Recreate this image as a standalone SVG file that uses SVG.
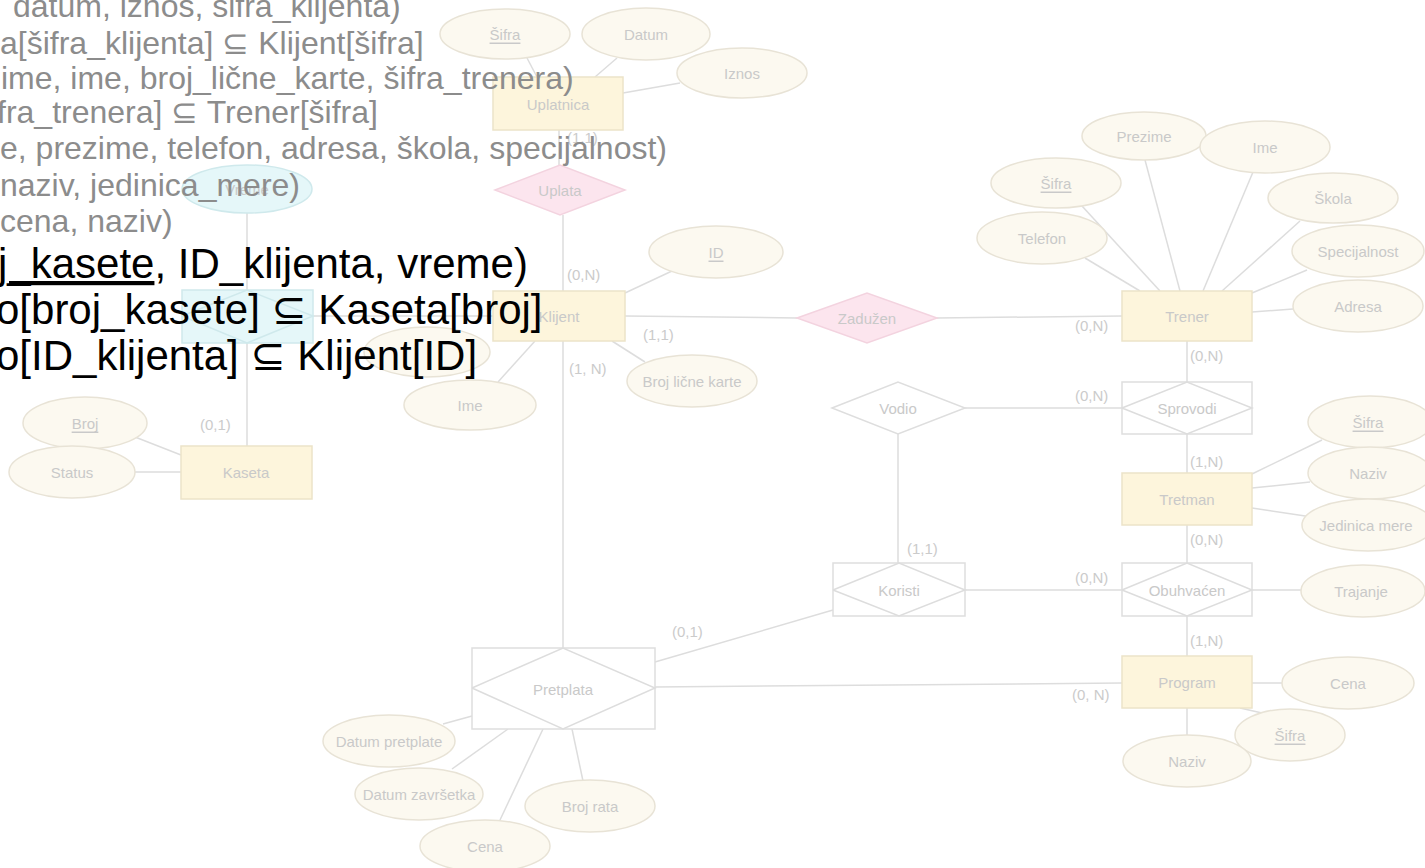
<svg xmlns="http://www.w3.org/2000/svg" width="1425" height="868" viewBox="0 0 1425 868">
<style>
.ent{fill:#fdf5dc;stroke:#ece3c9;stroke-width:1.5}
.att{fill:#fcf9f0;stroke:#e8e3d6;stroke-width:1.5}
.pink{fill:#fce5ee;stroke:#f3d3df;stroke-width:1.5}
.cyan{fill:#e5f7f9;stroke:#cfe9ec;stroke-width:1.5}
.wk{fill:#ffffff;stroke:#dedede;stroke-width:1.5}
.ln{stroke:#dddddd;stroke-width:1.5;fill:none}
.lbl{font-family:"Liberation Sans",Arial,sans-serif;font-size:15px;fill:#c9c9c9;text-anchor:middle;dominant-baseline:central}
.card{font-family:"Liberation Sans",Arial,sans-serif;font-size:15px;fill:#cbcbcb}
.u{text-decoration:underline}
.g{font-family:"Liberation Sans",Arial,sans-serif;font-size:32px;fill:#8c8c8c}
.b{font-family:"Liberation Sans","DejaVu Sans",sans-serif;font-size:42px;fill:#000000}
</style>
<rect width="1425" height="868" fill="#ffffff"/>
<g id="connectors">
<line class="ln" x1="527" y1="58" x2="537" y2="77"/>
<line class="ln" x1="617" y1="58" x2="595" y2="77"/>
<line class="ln" x1="680" y1="83" x2="623" y2="93"/>
<line class="ln" x1="559" y1="130" x2="559" y2="165"/>
<line class="ln" x1="563" y1="215" x2="563" y2="648"/>
<line class="ln" x1="247" y1="213" x2="247" y2="290"/>
<line class="ln" x1="247" y1="343" x2="247" y2="446"/>
<line class="ln" x1="313" y1="316" x2="493" y2="316"/>
<line class="ln" x1="625" y1="316" x2="797" y2="318"/>
<line class="ln" x1="937" y1="318" x2="1122" y2="316"/>
<line class="ln" x1="672" y1="271" x2="625" y2="293"/>
<line class="ln" x1="645" y1="362" x2="612" y2="341"/>
<line class="ln" x1="498" y1="382" x2="535" y2="341"/>
<line class="ln" x1="135" y1="437" x2="181" y2="455"/>
<line class="ln" x1="135" y1="472" x2="181" y2="472"/>
<line class="ln" x1="1085" y1="258" x2="1140" y2="291"/>
<line class="ln" x1="1082" y1="206" x2="1160" y2="291"/>
<line class="ln" x1="1145" y1="160" x2="1180" y2="291"/>
<line class="ln" x1="1253" y1="172" x2="1203" y2="291"/>
<line class="ln" x1="1300" y1="221" x2="1222" y2="291"/>
<line class="ln" x1="1307" y1="270" x2="1252" y2="293"/>
<line class="ln" x1="1293" y1="309" x2="1252" y2="312"/>
<line class="ln" x1="1187" y1="341" x2="1187" y2="382"/>
<line class="ln" x1="965" y1="408" x2="1122" y2="408"/>
<line class="ln" x1="898" y1="434" x2="898" y2="563"/>
<line class="ln" x1="1187" y1="434" x2="1187" y2="473"/>
<line class="ln" x1="1252" y1="474" x2="1322" y2="440"/>
<line class="ln" x1="1252" y1="488" x2="1310" y2="482"/>
<line class="ln" x1="1252" y1="508" x2="1312" y2="517"/>
<line class="ln" x1="1187" y1="525" x2="1187" y2="563"/>
<line class="ln" x1="965" y1="590" x2="1122" y2="590"/>
<line class="ln" x1="1252" y1="590" x2="1301" y2="590"/>
<line class="ln" x1="1187" y1="616" x2="1187" y2="656"/>
<line class="ln" x1="833" y1="610" x2="655" y2="662"/>
<line class="ln" x1="655" y1="687" x2="1122" y2="683"/>
<line class="ln" x1="1252" y1="683" x2="1282" y2="683"/>
<line class="ln" x1="1240" y1="708" x2="1262" y2="713"/>
<line class="ln" x1="1187" y1="708" x2="1187" y2="735"/>
<line class="ln" x1="443" y1="724" x2="472" y2="716"/>
<line class="ln" x1="452" y1="769" x2="508" y2="729"/>
<line class="ln" x1="500" y1="820" x2="543" y2="729"/>
<line class="ln" x1="583" y1="781" x2="572" y2="729"/>
<text class="card" x="567" y="143">(1,1)</text>
<text class="card" x="567" y="280">(0,N)</text>
<text class="card" x="643" y="340">(1,1)</text>
<text class="card" x="569" y="374">(1, N)</text>
<text class="card" x="1075" y="331">(0,N)</text>
<text class="card" x="1190" y="361">(0,N)</text>
<text class="card" x="1075" y="401">(0,N)</text>
<text class="card" x="1190" y="467">(1,N)</text>
<text class="card" x="907" y="554">(1,1)</text>
<text class="card" x="1190" y="545">(0,N)</text>
<text class="card" x="1075" y="583">(0,N)</text>
<text class="card" x="1190" y="646">(1,N)</text>
<text class="card" x="672" y="637">(0,1)</text>
<text class="card" x="1072" y="700">(0, N)</text>
<text class="card" x="200" y="430">(0,1)</text>
</g>
<g id="uplatnica"><rect class="ent" x="493" y="77" width="130" height="53"/><text class="lbl" x="558" y="104">Uplatnica</text></g>
<g id="klijent"><rect class="ent" x="493" y="291" width="132" height="50"/><text class="lbl" x="559" y="316">Klijent</text></g>
<g id="trener"><rect class="ent" x="1122" y="291" width="130" height="50"/><text class="lbl" x="1187" y="316">Trener</text></g>
<g id="kaseta"><rect class="ent" x="181" y="446" width="131" height="53"/><text class="lbl" x="246" y="472">Kaseta</text></g>
<g id="tretman"><rect class="ent" x="1122" y="473" width="130" height="52"/><text class="lbl" x="1187" y="499">Tretman</text></g>
<g id="program"><rect class="ent" x="1122" y="656" width="130" height="52"/><text class="lbl" x="1187" y="682">Program</text></g>
<g id="uplata"><polygon class="pink" points="495,190 560,165 625,190 560,215"/><text class="lbl" x="560" y="190">Uplata</text></g>
<g id="zaduzen"><polygon class="pink" points="797,318 867,293 937,318 867,343"/><text class="lbl" x="867" y="318">Zadužen</text></g>
<g id="vodio"><polygon class="wk" points="832,408 898,382 965,408 898,434"/><text class="lbl" x="898" y="408">Vodio</text></g>
<g id="iznajmljivanje"><rect class="cyan" x="182" y="290" width="131" height="53"/><polyline class="ln" style="stroke:#cfe9ec" points="182,316 247,290 313,316 247,343 182,316"/></g>
<g id="sprovodi"><rect class="wk" x="1122" y="382" width="130" height="52"/><polyline class="ln" points="1122,408 1187,382 1252,408 1187,434 1122,408"/><text class="lbl" x="1187" y="408">Sprovodi</text></g>
<g id="koristi"><rect class="wk" x="833" y="563" width="132" height="53"/><polyline class="ln" points="833,590 899,563 965,590 899,616 833,590"/><text class="lbl" x="899" y="590">Koristi</text></g>
<g id="obuhvacen"><rect class="wk" x="1122" y="563" width="130" height="53"/><polyline class="ln" points="1122,590 1187,563 1252,590 1187,616 1122,590"/><text class="lbl" x="1187" y="590">Obuhvaćen</text></g>
<g id="pretplata"><rect class="wk" x="472" y="648" width="183" height="81"/><polyline class="ln" points="472,688 563,648 655,688 563,729 472,688"/><text class="lbl" x="563" y="689">Pretplata</text></g>
<g id="a-up-sifra"><ellipse class="att" cx="505" cy="34" rx="65" ry="25"/><text class="lbl u" x="505" y="34">Šifra</text></g>
<g id="a-up-datum"><ellipse class="att" cx="646" cy="34" rx="64" ry="26"/><text class="lbl" x="646" y="34">Datum</text></g>
<g id="a-up-iznos"><ellipse class="att" cx="742" cy="73" rx="65" ry="25"/><text class="lbl" x="742" y="73">Iznos</text></g>
<g id="a-vreme"><ellipse class="cyan" cx="247" cy="189" rx="65" ry="24"/><text class="lbl" x="247" y="189">Vreme</text></g>
<g id="a-kl-id"><ellipse class="att" cx="716" cy="252" rx="67" ry="26"/><text class="lbl u" x="716" y="252">ID</text></g>
<g id="a-kl-blk"><ellipse class="att" cx="692" cy="381" rx="65" ry="26"/><text class="lbl" x="692" y="381">Broj lične karte</text></g>
<g id="a-kl-ime"><ellipse class="att" cx="470" cy="405" rx="66" ry="25"/><text class="lbl" x="470" y="405">Ime</text></g>
<g id="a-kl-hidden"><ellipse class="att" cx="427" cy="352" rx="63" ry="25"/></g>
<g id="a-ka-broj"><ellipse class="att" cx="85" cy="423" rx="62" ry="26"/><text class="lbl u" x="85" y="423">Broj</text></g>
<g id="a-ka-status"><ellipse class="att" cx="72" cy="472" rx="63" ry="26"/><text class="lbl" x="72" y="472">Status</text></g>
<g id="a-tr-prezime"><ellipse class="att" cx="1144" cy="136" rx="62" ry="24"/><text class="lbl" x="1144" y="136">Prezime</text></g>
<g id="a-tr-ime"><ellipse class="att" cx="1265" cy="147" rx="65" ry="26"/><text class="lbl" x="1265" y="147">Ime</text></g>
<g id="a-tr-sifra"><ellipse class="att" cx="1056" cy="183" rx="65" ry="25"/><text class="lbl u" x="1056" y="183">Šifra</text></g>
<g id="a-tr-telefon"><ellipse class="att" cx="1042" cy="238" rx="65" ry="26"/><text class="lbl" x="1042" y="238">Telefon</text></g>
<g id="a-tr-skola"><ellipse class="att" cx="1333" cy="198" rx="65" ry="25"/><text class="lbl" x="1333" y="198">Škola</text></g>
<g id="a-tr-spec"><ellipse class="att" cx="1358" cy="251" rx="66" ry="26"/><text class="lbl" x="1358" y="251">Specijalnost</text></g>
<g id="a-tr-adresa"><ellipse class="att" cx="1358" cy="306" rx="65" ry="26"/><text class="lbl" x="1358" y="306">Adresa</text></g>
<g id="a-tm-sifra"><ellipse class="att" cx="1370" cy="422" rx="62" ry="26"/><text class="lbl u" x="1368" y="422">Šifra</text></g>
<g id="a-tm-naziv"><ellipse class="att" cx="1370" cy="473" rx="62" ry="26"/><text class="lbl" x="1368" y="473">Naziv</text></g>
<g id="a-tm-jed"><ellipse class="att" cx="1368" cy="525" rx="66" ry="26"/><text class="lbl" x="1366" y="525">Jedinica mere</text></g>
<g id="a-trajanje"><ellipse class="att" cx="1363" cy="591" rx="62" ry="26"/><text class="lbl" x="1361" y="591">Trajanje</text></g>
<g id="a-pr-cena"><ellipse class="att" cx="1348" cy="683" rx="66" ry="26"/><text class="lbl" x="1348" y="683">Cena</text></g>
<g id="a-pr-sifra"><ellipse class="att" cx="1290" cy="735" rx="55" ry="26"/><text class="lbl u" x="1290" y="735">Šifra</text></g>
<g id="a-pr-naziv"><ellipse class="att" cx="1187" cy="761" rx="64" ry="26"/><text class="lbl" x="1187" y="761">Naziv</text></g>
<g id="a-pt-dp"><ellipse class="att" cx="389" cy="741" rx="66" ry="26"/><text class="lbl" x="389" y="741">Datum pretplate</text></g>
<g id="a-pt-dz"><ellipse class="att" cx="419" cy="794" rx="64" ry="26"/><text class="lbl" x="419" y="794">Datum završetka</text></g>
<g id="a-pt-cena"><ellipse class="att" cx="485" cy="846" rx="65" ry="26"/><text class="lbl" x="485" y="846">Cena</text></g>
<g id="a-pt-br"><ellipse class="att" cx="590" cy="806" rx="65" ry="26"/><text class="lbl" x="590" y="806">Broj rata</text></g>
<g id="overlay-text">
<text class="g" x="13" y="17">datum, iznos, šifra_klijenta)</text>
<text class="g" x="0" y="54">a[šifra_klijenta] ⊆ Klijent[šifra]</text>
<text class="g" x="1" y="89">ime, ime, broj_lične_karte, šifra_trenera)</text>
<text class="g" x="-3" y="123">fra_trenera] ⊆ Trener[šifra]</text>
<text class="g" x="0" y="159">e, prezime, telefon, adresa, škola, specijalnost)</text>
<text class="g" x="0" y="196">naziv, jedinica_mere)</text>
<text class="g" x="0" y="232">cena, naziv)</text>
<text class="b" x="-2" y="278"><tspan class="u">j_kasete</tspan>, ID_klijenta, vreme)</text>
<text class="b" x="-4" y="324">o[broj_kasete] ⊆ Kaseta[broj]</text>
<text class="b" x="-4" y="370">o[ID_klijenta] ⊆ Klijent[ID]</text>
</g>
</svg>
